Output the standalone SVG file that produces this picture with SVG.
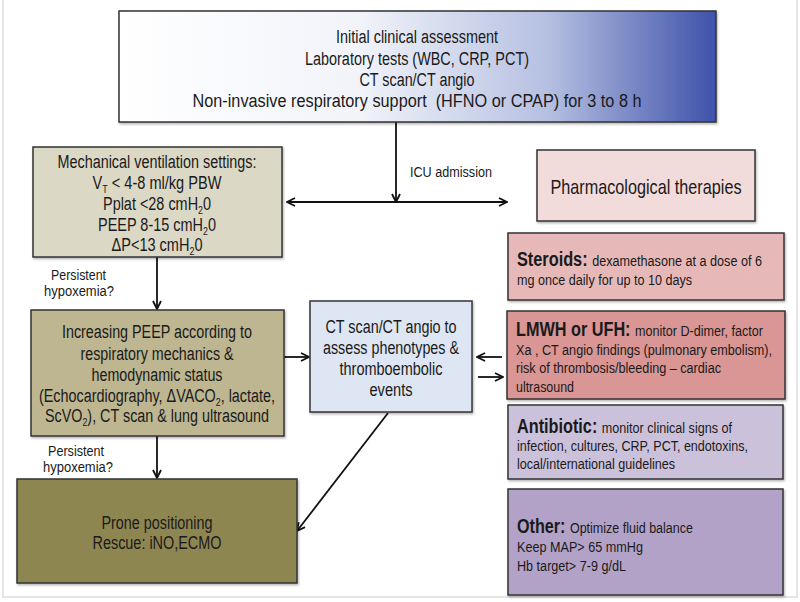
<svg xmlns="http://www.w3.org/2000/svg" width="800" height="602" viewBox="0 0 800 602">
<defs>
<linearGradient id="gTop" x1="0" y1="0" x2="1" y2="0">
<stop offset="0" stop-color="#ffffff"/>
<stop offset="0.4" stop-color="#f2f4fa"/>
<stop offset="0.72" stop-color="#b5bfe1"/>
<stop offset="1" stop-color="#3e52aa"/>
</linearGradient>
<marker id="ah" viewBox="0 0 10 10" refX="9" refY="5" markerWidth="10" markerHeight="10" markerUnits="userSpaceOnUse" orient="auto">
<path d="M1,1 L9,5 L1,9" fill="none" stroke="#111" stroke-width="1.8"/>
</marker>
<filter id="sh" x="-5%" y="-5%" width="110%" height="115%">
<feDropShadow dx="1" dy="1.5" stdDeviation="1" flood-color="#000" flood-opacity="0.3"/>
</filter>
</defs>
<style>
.box{stroke:#333;stroke-width:1.5;filter:url(#sh)}
.t{font-family:"Liberation Sans",Arial,sans-serif;fill:#1a1a1a}
.c{text-anchor:middle;font-size:18px}
.l{font-size:15.5px}
.b{font-weight:bold;font-size:20px}
.lbl{font-size:14px}
.con{stroke:#111;stroke-width:1.8;fill:none;marker-end:url(#ah)}
</style>
<rect x="0" y="0" width="800" height="602" fill="#fff"/>
<rect x="3" y="-3" width="794" height="600" fill="none" stroke="#dedede" stroke-width="1.5"/>

<g id="connectors">
<line class="con" x1="396" y1="122" x2="396" y2="202"/>
<line class="con" x1="396" y1="202" x2="287" y2="202"/>
<line class="con" x1="396" y1="202" x2="507" y2="202"/>
<line class="con" x1="157" y1="257" x2="157" y2="309"/>
<line class="con" x1="157" y1="436" x2="157" y2="478"/>
<line class="con" x1="284" y1="357" x2="309" y2="357"/>
<line class="con" x1="388" y1="413" x2="297" y2="531"/>
<line class="con" x1="502" y1="357" x2="477" y2="357"/>
<line class="con" x1="478" y1="377" x2="503" y2="377"/>
</g>

<g id="labels">
<text class="t lbl" x="410" y="177" textLength="82" lengthAdjust="spacingAndGlyphs">ICU admission</text>
<text class="t lbl" x="51" y="280" textLength="55" lengthAdjust="spacingAndGlyphs">Persistent</text>
<text class="t lbl" x="44" y="296" textLength="70" lengthAdjust="spacingAndGlyphs">hypoxemia?</text>
<text class="t lbl" x="48" y="456" textLength="56" lengthAdjust="spacingAndGlyphs">Persistent</text>
<text class="t lbl" x="43" y="472" textLength="70" lengthAdjust="spacingAndGlyphs">hypoxemia?</text>
</g>

<g id="top">
<rect class="box" x="119" y="11" width="597" height="111" fill="url(#gTop)"/>
<text class="t c" x="417" y="43" textLength="162" lengthAdjust="spacingAndGlyphs">Initial clinical assessment</text>
<text class="t c" x="417" y="65" textLength="224" lengthAdjust="spacingAndGlyphs">Laboratory tests (WBC, CRP, PCT)</text>
<text class="t c" x="417" y="86" textLength="115" lengthAdjust="spacingAndGlyphs">CT scan/CT angio</text>
<text class="t c" x="417" y="107" textLength="449" lengthAdjust="spacingAndGlyphs" xml:space="preserve">Non-invasive respiratory support  (HFNO or CPAP) for 3 to 8 h</text>
</g>

<g id="mech">
<rect class="box" x="33" y="147" width="249" height="110" fill="#dcd8c6"/>
<text class="t c" x="157" y="168" textLength="199" lengthAdjust="spacingAndGlyphs">Mechanical ventilation settings:</text>
<text class="t c" x="157" y="189" textLength="129" lengthAdjust="spacingAndGlyphs">V<tspan font-size="11" dy="4">T</tspan><tspan dy="-4"> &lt; 4-8 ml/kg PBW</tspan></text>
<text class="t c" x="157" y="210" textLength="108" lengthAdjust="spacingAndGlyphs">Pplat &lt;28 cmH<tspan font-size="11" dy="4">2</tspan><tspan dy="-4">0</tspan></text>
<text class="t c" x="157" y="231" textLength="118" lengthAdjust="spacingAndGlyphs">PEEP 8-15 cmH<tspan font-size="11" dy="4">2</tspan><tspan dy="-4">0</tspan></text>
<text class="t c" x="157" y="251" textLength="91" lengthAdjust="spacingAndGlyphs">ΔP&lt;13 cmH<tspan font-size="11" dy="4">2</tspan><tspan dy="-4">0</tspan></text>
</g>

<g id="peep">
<rect class="box" x="31" y="310" width="253" height="126" fill="#bdb690"/>
<text class="t c" x="157" y="338" textLength="190" lengthAdjust="spacingAndGlyphs">Increasing PEEP according to</text>
<text class="t c" x="157" y="360" textLength="153" lengthAdjust="spacingAndGlyphs">respiratory mechanics &amp;</text>
<text class="t c" x="157" y="381" textLength="131" lengthAdjust="spacingAndGlyphs">hemodynamic status</text>
<text class="t c" x="157" y="402" textLength="236" lengthAdjust="spacingAndGlyphs">(Echocardiography, ΔVACO<tspan font-size="11" dy="4">2</tspan><tspan dy="-4">, lactate,</tspan></text>
<text class="t c" x="157" y="422" textLength="224" lengthAdjust="spacingAndGlyphs">ScVO<tspan font-size="11" dy="4">2</tspan><tspan dy="-4">), CT scan &amp; lung ultrasound</tspan></text>
</g>

<g id="prone">
<rect class="box" x="17" y="479" width="280" height="104" fill="#8e8651"/>
<text class="t c" x="157" y="529" textLength="111" lengthAdjust="spacingAndGlyphs">Prone positioning</text>
<text class="t c" x="157" y="549" textLength="129" lengthAdjust="spacingAndGlyphs">Rescue: iNO,ECMO</text>
</g>

<g id="ct">
<rect class="box" x="310" y="301" width="162" height="111" fill="#dde6f2"/>
<text class="t c" x="391" y="333" textLength="131" lengthAdjust="spacingAndGlyphs">CT scan/CT angio to</text>
<text class="t c" x="391" y="354" textLength="136" lengthAdjust="spacingAndGlyphs">assess phenotypes &amp;</text>
<text class="t c" x="391" y="375" textLength="103" lengthAdjust="spacingAndGlyphs">thromboembolic</text>
<text class="t c" x="391" y="396" textLength="43" lengthAdjust="spacingAndGlyphs">events</text>
</g>

<g id="pharm">
<rect class="box" x="537" y="150" width="218" height="71" fill="#f2dcdb"/>
<text class="t" x="646" y="194" text-anchor="middle" font-size="21" textLength="191" lengthAdjust="spacingAndGlyphs">Pharmacological therapies</text>
</g>

<g id="steroids">
<rect class="box" x="508" y="233" width="276" height="67" fill="#e6b9b8"/>
<text class="t l" x="517" y="266" textLength="245" lengthAdjust="spacingAndGlyphs"><tspan class="b">Steroids: </tspan>dexamethasone at a dose of 6</text>
<text class="t l" x="517" y="285" textLength="175" lengthAdjust="spacingAndGlyphs">mg once daily for up to 10 days</text>
</g>

<g id="lmwh">
<rect class="box" x="507" y="311" width="278" height="88" fill="#d99694"/>
<text class="t l" x="516" y="336" textLength="247" lengthAdjust="spacingAndGlyphs"><tspan class="b">LMWH or UFH: </tspan>monitor D-dimer, factor</text>
<text class="t l" x="516" y="355" textLength="256" lengthAdjust="spacingAndGlyphs">Xa , CT angio findings (pulmonary embolism),</text>
<text class="t l" x="516" y="373" textLength="205" lengthAdjust="spacingAndGlyphs">risk of thrombosis/bleeding – cardiac</text>
<text class="t l" x="516" y="392" textLength="58" lengthAdjust="spacingAndGlyphs">ultrasound</text>
</g>

<g id="antibiotic">
<rect class="box" x="508" y="405" width="275" height="74" fill="#ccc1da"/>
<text class="t l" x="517" y="433" textLength="215" lengthAdjust="spacingAndGlyphs"><tspan class="b">Antibiotic: </tspan>monitor clinical signs of</text>
<text class="t l" x="517" y="451" textLength="231" lengthAdjust="spacingAndGlyphs">infection, cultures, CRP, PCT, endotoxins,</text>
<text class="t l" x="517" y="469" textLength="158" lengthAdjust="spacingAndGlyphs">local/international guidelines</text>
</g>

<g id="other">
<rect class="box" x="508" y="489" width="275" height="106" fill="#b3a2c7"/>
<text class="t l" x="517" y="533" textLength="176" lengthAdjust="spacingAndGlyphs"><tspan class="b">Other: </tspan>Optimize fluid balance</text>
<text class="t l" x="517" y="552" textLength="126" lengthAdjust="spacingAndGlyphs">Keep MAP&gt; 65 mmHg</text>
<text class="t l" x="517" y="571" textLength="109" lengthAdjust="spacingAndGlyphs">Hb target&gt; 7-9 g/dL</text>
</g>
</svg>
